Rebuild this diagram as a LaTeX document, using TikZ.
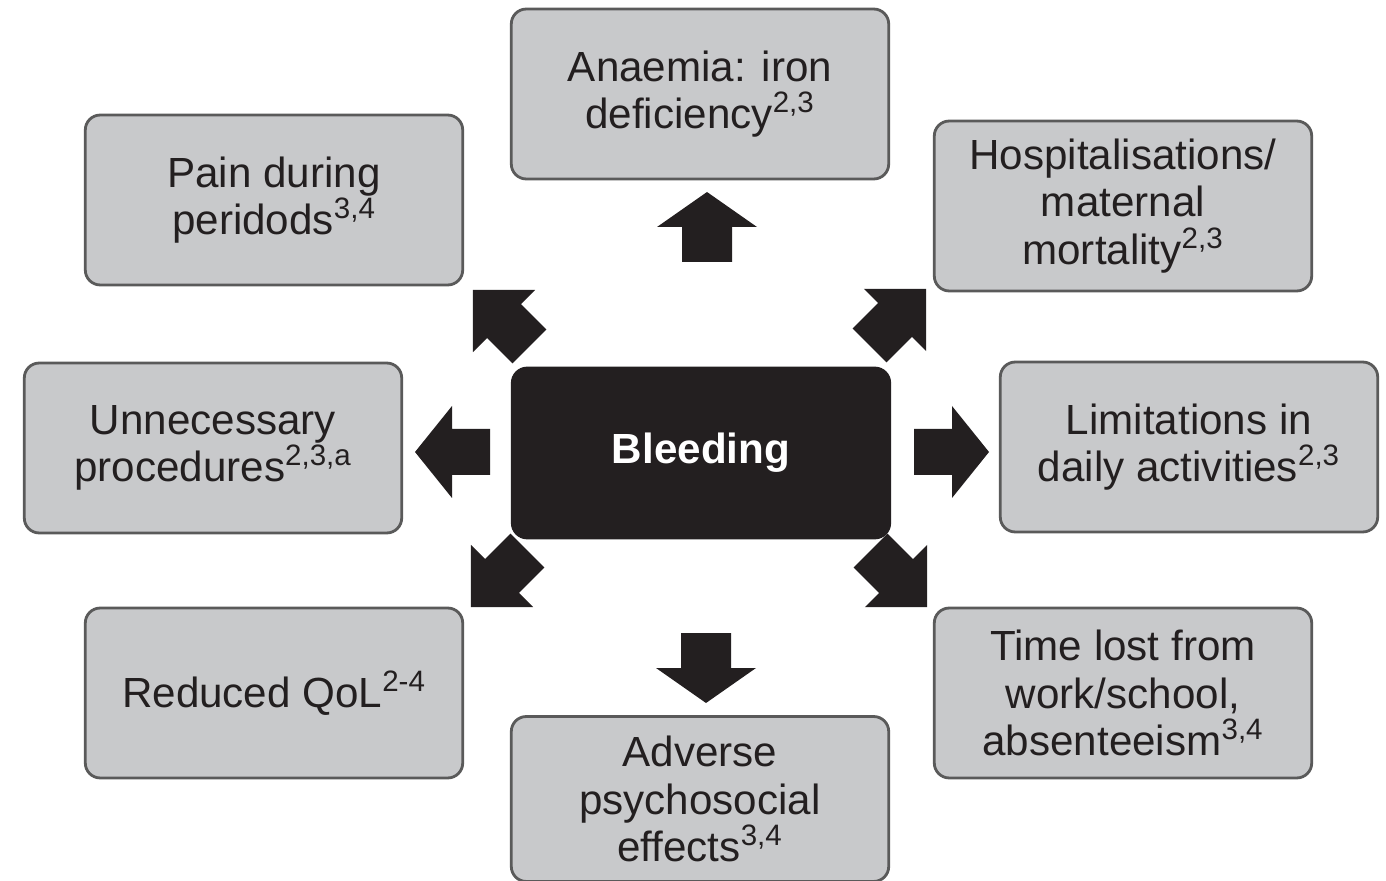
\documentclass[tikz,border=0pt]{standalone}
\usepackage{fontspec}
\setmainfont{Liberation Sans}
\definecolor{boxgray}{HTML}{C8C9CB}
\definecolor{inkdark}{HTML}{231F20}
\definecolor{rimgray}{HTML}{5A5A5A}
\tikzset{
    % block arrows, origin at the base of the head, pointing along +x
    pics/flatarrow/.style={code={
        \fill[inkdark] (-38,-23) -- (0,-23) -- (0,-46) -- (37,0) -- (0,46) -- (0,23) -- (-38,23) -- cycle;}},
    pics/tallarrow/.style={code={
        \fill[inkdark] (-35,-25) -- (0,-25) -- (0,-50) -- (35,0) -- (0,50) -- (0,25) -- (-35,25) -- cycle;}},
    pics/slantarrow/.style={code={
        \fill[inkdark] (-36,-24) -- (0,-24) -- (0,-44) -- (44,0) -- (0,44) -- (0,24) -- (-36,24) -- cycle;}}
}
\begin{document}
\begin{tikzpicture}[x=0.02cm, y=-0.02cm,
    effect/.style={draw=rimgray, line width=1.6pt, fill=boxgray, rounded corners=0.3cm,
        minimum width=7.55cm, minimum height=3.4cm, align=center, text=inkdark,
        font=\fontsize{24}{27}\selectfont}]
    \useasboundingbox (0,0) rectangle (1386,881);

    % Centre
    \node [effect, fill=inkdark, draw=inkdark, text=white, font=\fontsize{24}{27}\selectfont\bfseries] (Bleed) at (701,453) {Bleeding};

    % Surrounding effects
    \node [effect] (Anaemia) at (700,94) {Anaemia: iron\\deficiency\textsuperscript{2,3}};
    \node [effect] (Pain) at (274,200) {Pain during\\peridods\textsuperscript{3,4}};
    \node [effect] (Hosp) at (1123,206) {Hospitalisations/\\maternal\\mortality\textsuperscript{2,3}};
    \node [effect] (Unnec) at (213,448) {Unnecessary\\procedures\textsuperscript{2,3,a}};
    \node [effect] (Limit) at (1189,447) {Limitations in\\daily activities\textsuperscript{2,3}};
    \node [effect] (QoL) at (274,693) {Reduced QoL\textsuperscript{2-4}};
    \node [effect] (Time) at (1123,693) {Time lost from\\work/school,\\absenteeism\textsuperscript{3,4}};
    \node [effect, minimum height=3.3cm] (Adverse) at (700,799) {Adverse\\psychosocial\\effects\textsuperscript{3,4}};

    % Arrows
    \pic [rotate=90] at (707,227) {tallarrow};
    \pic [rotate=-90] at (706,668) {tallarrow};
    \pic [rotate=180] at (452,452) {flatarrow};
    \pic at (952,452) {flatarrow};
    \pic [rotate=135] at (504,321) {slantarrow};
    \pic [rotate=45] at (895,320) {slantarrow};
    \pic [rotate=225] at (502,576) {slantarrow};
    \pic [rotate=-45] at (896,576) {slantarrow};
\end{tikzpicture}
\end{document}
